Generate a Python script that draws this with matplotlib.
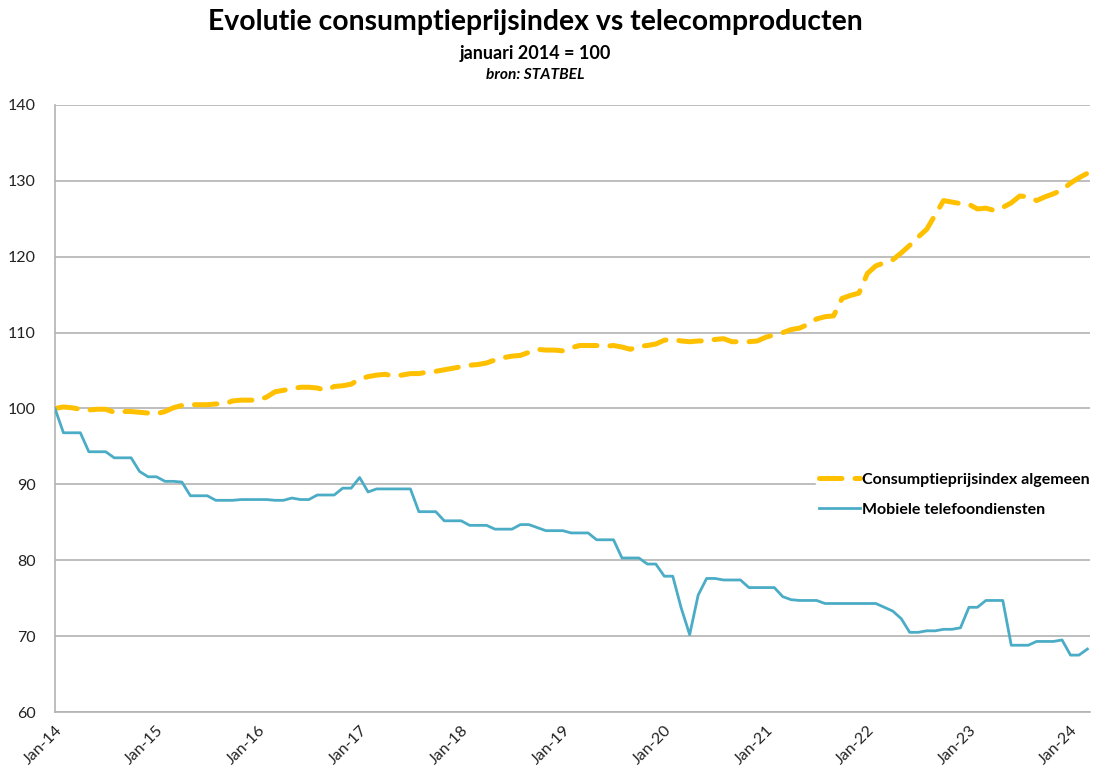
import numpy as np
import matplotlib
matplotlib.use("Agg")
import matplotlib.pyplot as plt

# monthly values, Jan-14 .. Mar-24 (index 2014-01 = 100)
cpi = [
    100.0, 100.2, 100.1, 99.9, 99.8, 99.9, 99.9, 99.5, 99.6, 99.6, 99.5, 99.4,
    99.3, 99.6, 100.1, 100.4, 100.5, 100.5, 100.5, 100.6, 100.6, 101.0, 101.1, 101.1,
    101.1, 101.5, 102.2, 102.4, 102.6, 102.8, 102.8, 102.7, 102.4, 102.9, 103.0, 103.2,
    103.9, 104.2, 104.4, 104.5, 104.3, 104.4, 104.6, 104.6, 104.8, 104.9, 105.1, 105.3,
    105.5, 105.7, 105.8, 106.0, 106.4, 106.7, 106.9, 107.0, 107.4, 107.8, 107.7, 107.7,
    107.6, 108.0, 108.3, 108.3, 108.3, 108.2, 108.3, 108.1, 107.8, 108.2, 108.3, 108.5,
    109.0, 109.1, 108.9, 108.8, 108.9, 108.9, 109.1, 109.2, 108.8, 108.8, 108.8, 108.9,
    109.4, 109.7, 110.0, 110.4, 110.6, 111.1, 111.8, 112.1, 112.2, 114.5, 114.9, 115.2,
    117.8, 118.8, 119.2, 119.6, 120.5, 121.5, 122.6, 123.6, 125.5, 127.4, 127.2, 127.0,
    126.9, 126.3, 126.4, 126.1, 126.5, 127.1, 128.0, 127.9, 127.4, 127.9, 128.3, 128.8,
    129.7, 130.4, 131.0,
]
mobiel = [
    100.0, 96.8, 96.8, 96.8, 94.3, 94.3, 94.3, 93.5, 93.5, 93.5, 91.7, 91.0,
    91.0, 90.4, 90.4, 90.3, 88.5, 88.5, 88.5, 87.9, 87.9, 87.9, 88.0, 88.0,
    88.0, 88.0, 87.9, 87.9, 88.2, 88.0, 88.0, 88.6, 88.6, 88.6, 89.5, 89.5,
    90.9, 89.0, 89.4, 89.4, 89.4, 89.4, 89.4, 86.4, 86.4, 86.4, 85.2, 85.2,
    85.2, 84.6, 84.6, 84.6, 84.1, 84.1, 84.1, 84.7, 84.7, 84.3, 83.9, 83.9,
    83.9, 83.6, 83.6, 83.6, 82.7, 82.7, 82.7, 80.3, 80.3, 80.3, 79.5, 79.5,
    77.9, 77.9, 73.7, 70.2, 75.4, 77.6, 77.6, 77.4, 77.4, 77.4, 76.4, 76.4,
    76.4, 76.4, 75.2, 74.8, 74.7, 74.7, 74.7, 74.3, 74.3, 74.3, 74.3, 74.3,
    74.3, 74.3, 73.8, 73.3, 72.3, 70.5, 70.5, 70.7, 70.7, 70.9, 70.9, 71.1,
    73.8, 73.8, 74.7, 74.7, 74.7, 68.8, 68.8, 68.8, 69.3, 69.3, 69.3, 69.5,
    67.5, 67.5, 68.3,
]
tick_labels = ["Jan-14", "Jan-15", "Jan-16", "Jan-17", "Jan-18", "Jan-19",
               "Jan-20", "Jan-21", "Jan-22", "Jan-23", "Jan-24"]

plt.rcParams["font.family"] = ["Lato", "DejaVu Sans"]

fig = plt.figure(figsize=(11.06, 7.69), dpi=100)
ax = fig.add_axes([0.0497, 0.0741, 0.9358, 0.7894])

x = np.arange(len(cpi))
ax.plot(x, cpi, color="#FFC000", lw=3.6, ls=(0, (4.5, 2.6)),
        dash_capstyle="round", solid_capstyle="round",
        label="Consumptieprijsindex algemeen", zorder=3)
ax.plot(x, mobiel, color="#4BACC6", lw=2.0,
        label="Mobiele telefoondiensten", zorder=3)

ax.set_xlim(0, 122.3)
ax.set_ylim(60, 140)
ax.set_yticks(np.arange(60, 141, 10))
ax.set_xticks(np.arange(len(tick_labels)) * 12)
ax.set_xticklabels(tick_labels, rotation=45, ha="right", rotation_mode="anchor")
ax.tick_params(axis="both", length=0, labelsize=11.5, colors="#222222")
ax.tick_params(axis="x", pad=8)
ax.tick_params(axis="y", pad=14)

ax.grid(axis="y", color="#B3B3B3", lw=1.2, zorder=0)
for s in ["top", "right"]:
    ax.spines[s].set_visible(False)
for s in ["left", "bottom"]:
    ax.spines[s].set_color("#B3B3B3")
    ax.spines[s].set_linewidth(1.2)

leg = ax.legend(loc="upper left", bbox_to_anchor=(0.735, 0.40), frameon=True,
                framealpha=1, edgecolor="white", fontsize=11.5,
                handlelength=2.6, handletextpad=0.1, borderaxespad=0,
                labelspacing=1.0, borderpad=0.2)
for t in leg.get_texts():
    t.set_fontweight("bold")
leg.set_zorder(5)

fig.text(0.484, 0.971, "Evolutie consumptieprijsindex vs telecomproducten",
         ha="center", va="center", fontsize=20.4, fontweight="bold")
fig.text(0.484, 0.931, "januari 2014 = 100", ha="center", va="center",
         fontsize=13, fontweight="bold")
fig.text(0.484, 0.902, "bron: STATBEL", ha="center", va="center",
         fontsize=11.2, fontweight="bold", style="italic")

fig.savefig("out.png", dpi=100)
plt.close(fig)
